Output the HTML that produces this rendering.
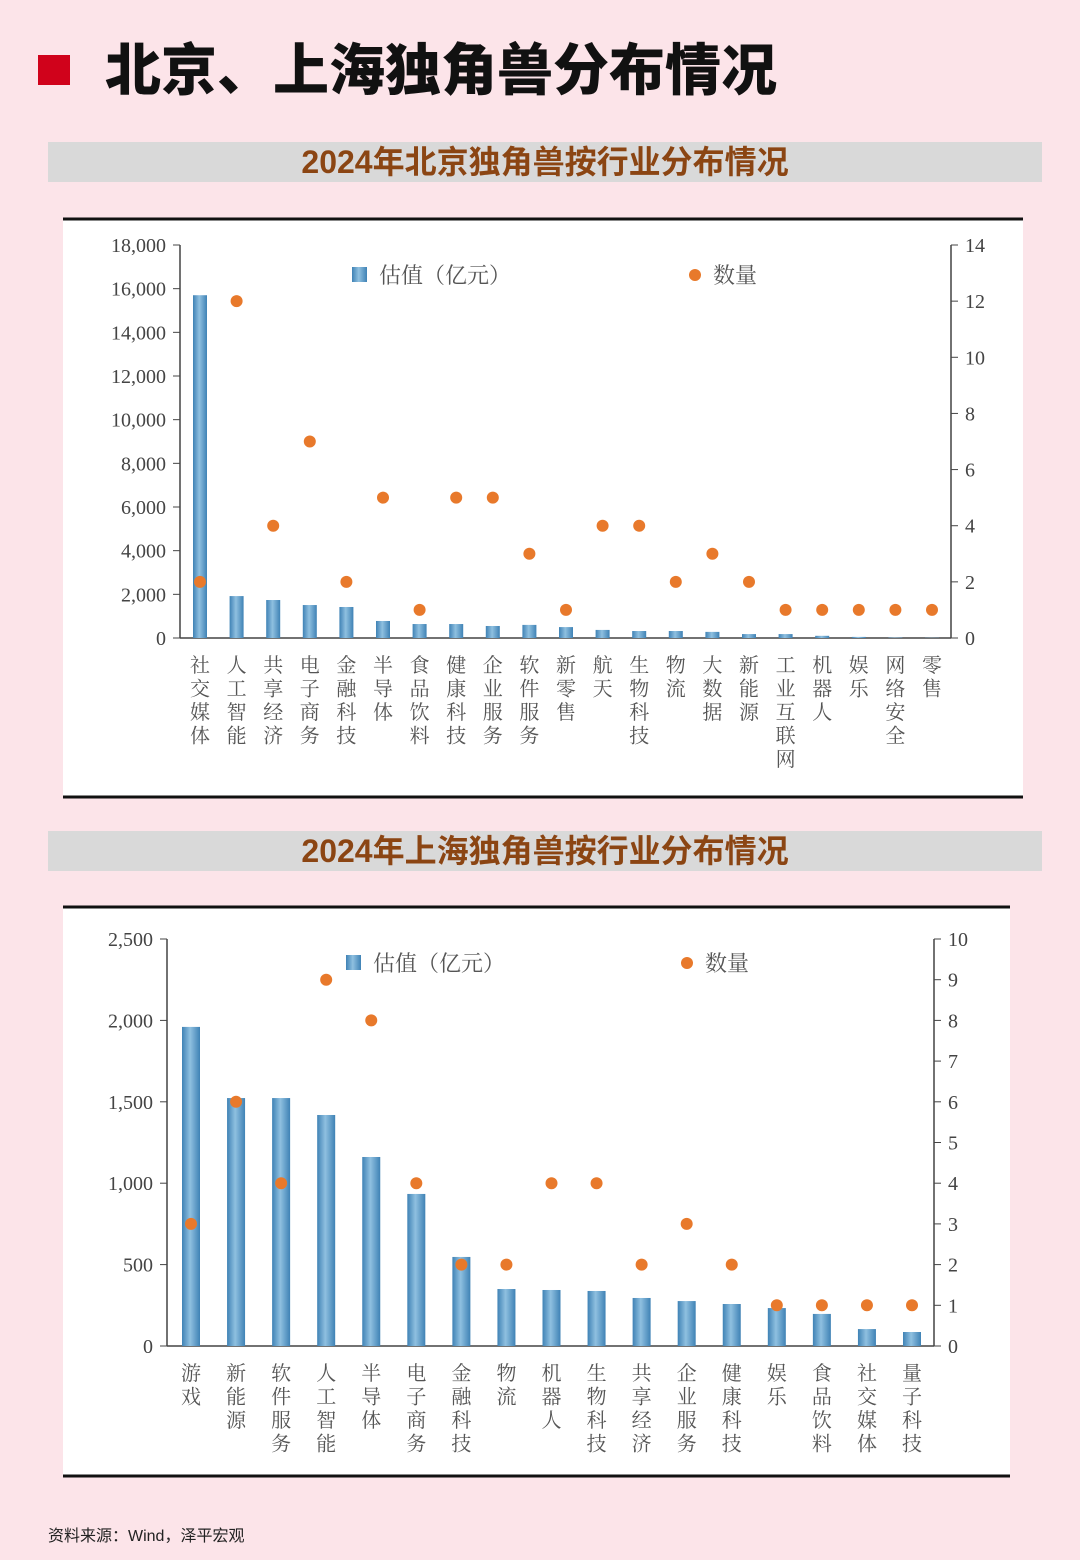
<!DOCTYPE html>
<html><head><meta charset="utf-8">
<style>
body{margin:0;width:1080px;height:1560px;background:#fce4e9;position:relative;overflow:hidden;font-family:"Liberation Sans","Noto Sans CJK SC",sans-serif}
.h{position:absolute;left:48px;width:994px;height:40px;background:#d9d9d9;color:#8b4513;font-weight:bold;font-size:32px;text-align:center;line-height:40px;font-family:"Liberation Sans","Noto Sans CJK SC",sans-serif}
</style></head><body>
<div style="position:absolute;left:38px;top:55px;width:32px;height:30px;background:#d0021b"></div>
<div style="position:absolute;left:105px;top:26px;font-size:56px;font-weight:900;color:#111;font-family:'Noto Sans CJK SC',sans-serif">北京、上海独角兽分布情况</div>
<div class="h" style="top:142px">2024年北京独角兽按行业分布情况</div>
<div class="h" style="top:831px">2024年上海独角兽按行业分布情况</div>
<svg id="c1" style="position:absolute;left:0;top:0" width="1080" height="1560"></svg>
<div style="position:absolute;left:48px;top:1522px;font-size:16px;color:#222">资料来源：Wind，泽平宏观</div>
<script>
const cats1=["社交媒体","人工智能","共享经济","电子商务","金融科技","半导体","食品饮料","健康科技","企业服务","软件服务","新零售","航天","生物科技","物流","大数据","新能源","工业互联网","机器人","娱乐","网络安全","零售"];
const vals1=[15700,1920,1740,1510,1420,780,640,640,550,600,500,370,320,320,280,180,180,100,50,20,10];
const cnt1=[2,12,4,7,2,5,1,5,5,3,1,4,4,2,3,2,1,1,1,1,1];
const ticksL1=[0,2000,4000,6000,8000,10000,12000,14000,16000,18000];
const ticksR1=[0,2,4,6,8,10,12,14];
const cats2=["游戏","新能源","软件服务","人工智能","半导体","电子商务","金融科技","物流","机器人","生物科技","共享经济","企业服务","健康科技","娱乐","食品饮料","社交媒体","量子科技"];
const vals2=[1960,1523,1523,1419,1161,934,547,350,344,338,295,276,258,233,197,104,86];
const cnt2=[3,6,4,9,8,4,2,2,4,4,2,3,2,1,1,1,1];
const ticksL2=[0,500,1000,1500,2000,2500];
const ticksR2=[0,1,2,3,4,5,6,7,8,9,10];
const NS="http://www.w3.org/2000/svg";
const svg=document.getElementById('c1');
function mk(t,a,txt){const e=document.createElementNS(NS,t);for(const k in a)e.setAttribute(k,a[k]);if(txt!==undefined)e.textContent=txt;svg.appendChild(e);return e;}
const defs=mk('defs',{});
defs.innerHTML='<linearGradient id="bg" x1="0" x2="1"><stop offset="0" stop-color="#3f82b5"/><stop offset="0.45" stop-color="#8fc0e0"/><stop offset="1" stop-color="#3f82b5"/></linearGradient>';
function fmt(v){return v.toLocaleString('en-US');}
function chart(o){
 let r=mk('rect',{x:o.bx,y:o.by,width:o.bw,height:o.bh,fill:'#fff'});
 mk('line',{x1:o.bx,x2:o.bx+o.bw,y1:o.by,y2:o.by,stroke:'#111','stroke-width':3});
 mk('line',{x1:o.bx,x2:o.bx+o.bw,y1:o.by+o.bh,y2:o.by+o.bh,stroke:'#111','stroke-width':3});
 const yL=v=>o.y0-(v/o.maxL)*(o.y0-o.y1);
 const yR=v=>o.y0-(v/o.maxR)*(o.y0-o.y1);
 const xC=i=>o.x0+i*(o.xN-o.x0)/(o.cats.length-1);
 mk('line',{x1:o.lx,x2:o.lx,y1:o.y1,y2:o.y0,stroke:'#444','stroke-width':1.5});
 mk('line',{x1:o.rx,x2:o.rx,y1:o.y1,y2:o.y0,stroke:'#444','stroke-width':1.5});
 mk('line',{x1:o.lx,x2:o.rx,y1:o.y0,y2:o.y0,stroke:'#444','stroke-width':1.5});
 o.tL.forEach(v=>{mk('line',{x1:o.lx-7,x2:o.lx,y1:yL(v),y2:yL(v),stroke:'#444'});
  const t=mk('text',{x:o.lx-14,y:yL(v)+7,'text-anchor':'end','font-size':20,fill:'#444','font-family':'Liberation Serif,serif'},fmt(v));});
 o.tR.forEach(v=>{mk('line',{x1:o.rx,x2:o.rx+7,y1:yR(v),y2:yR(v),stroke:'#444'});
  const t=mk('text',{x:o.rx+14,y:yR(v)+7,'font-size':20,fill:'#444','font-family':'Liberation Serif,serif'},String(v));});
 o.cats.forEach((c,i)=>{const x=xC(i);
  const b=mk('rect',{x:x-o.w/2,y:yL(o.vals[i]),width:o.w,height:o.y0-yL(o.vals[i]),fill:'url(#bg)'});
  
  const d=mk('circle',{cx:x,cy:yR(o.cnt[i]),r:6,fill:'#e8792b'});
  
  [...c].forEach((ch,k)=>{const t=mk('text',{x:x,y:o.ly+k*23.5,'text-anchor':'middle','font-size':20,fill:'#555','font-family':'Noto Serif CJK SC,serif'},ch);});
 });
 let s=mk('rect',{x:o.lg1,y:o.lgy-8,width:15,height:15,fill:'url(#bg)'});
 let t=mk('text',{x:o.lg1+27,y:o.lgy+8,'font-size':22,fill:'#555','font-family':'Noto Serif CJK SC,serif'},'估值（亿元）');
 let c=mk('circle',{cx:o.lg2,cy:o.lgy,r:6,fill:'#e8792b'});
 t=mk('text',{x:o.lg2+18,y:o.lgy+8,'font-size':22,fill:'#555','font-family':'Noto Serif CJK SC,serif'},'数量');
}
chart({name:'beijing',bx:63,by:219,bw:960,bh:578,lx:180,rx:951,y0:638,y1:245,maxL:18000,maxR:14,x0:200,xN:932,w:14,cats:cats1,vals:vals1,cnt:cnt1,tL:ticksL1,tR:ticksR1,ly:672,lg1:352,lg2:695,lgy:275});
chart({name:'shanghai',bx:63,by:907,bw:947,bh:569,lx:167,rx:934,y0:1346,y1:939,maxL:2500,maxR:10,x0:191,xN:912,w:18,cats:cats2,vals:vals2,cnt:cnt2,tL:ticksL2,tR:ticksR2,ly:1380,lg1:346,lg2:687,lgy:963});
</script>
</body></html>
